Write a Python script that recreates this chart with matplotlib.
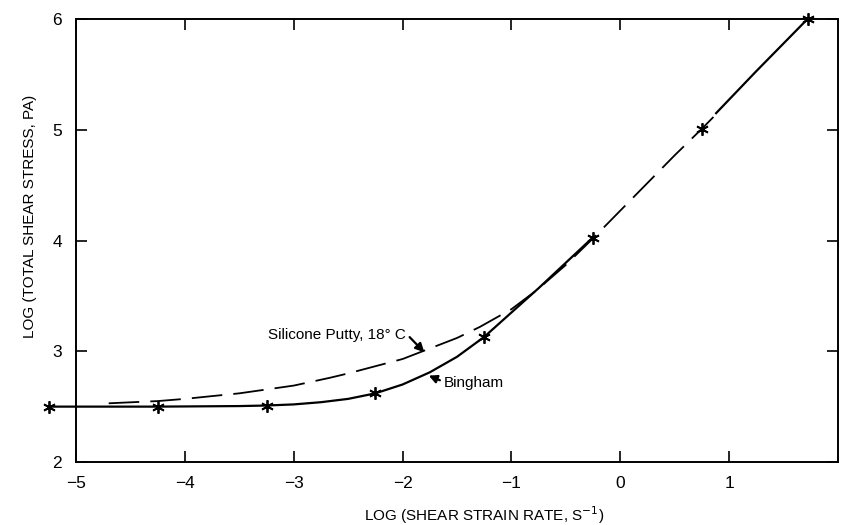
import matplotlib
matplotlib.use("Agg")
import matplotlib.pyplot as plt

plt.rcParams['font.family'] = ['Liberation Sans', 'DejaVu Sans']
plt.rcParams['lines.scale_dashes'] = False

# Bingham model curve (solid), two visible segments
bingham_x1 = [-5.25, -4.25, -3.5, -3.25, -3.0, -2.75, -2.5, -2.25, -2.0, -1.75, -1.5, -1.25, -1.0, -0.75, -0.5, -0.25]
bingham_y1 = [2.50, 2.50, 2.505, 2.51, 2.52, 2.54, 2.57, 2.62, 2.70, 2.81, 2.95, 3.13, 3.35, 3.57, 3.80, 4.03]
bingham_x2 = [0.88, 1.25, 1.5, 1.72]
bingham_y2 = [5.15, 5.53, 5.78, 6.00]

# Bingham computed points (asterisks)
point_x = [-5.25, -4.25, -3.25, -2.25, -1.25, -0.25, 0.75, 1.72]
point_y = [2.50, 2.50, 2.51, 2.62, 3.13, 4.02, 5.01, 6.00]

# Silicone putty, 18 C (dashed)
putty_x = [-4.7, -4.25, -4.0, -3.5, -3.0, -2.67, -2.5, -2.0, -1.5, -1.29, -1.0, -0.77, -0.5, -0.25, 0.0, 0.25, 0.5, 0.75, 0.9]
putty_y = [2.53, 2.55, 2.57, 2.62, 2.69, 2.76, 2.80, 2.93, 3.12, 3.22, 3.38, 3.55, 3.78, 4.02, 4.27, 4.52, 4.77, 5.01, 5.16]

x_ticks = [-5, -4, -3, -2, -1, 0, 1]
y_ticks = [2, 3, 4, 5, 6]

fig = plt.figure(figsize=(8.42, 5.25), dpi=100)
ax = fig.add_axes([0.0903, 0.12, 0.905, 0.8438])

ax.plot(putty_x, putty_y, color='black', lw=1.3, dashes=(22, 8))
ax.plot(bingham_x1, bingham_y1, color='black', lw=1.6, clip_on=False)
ax.plot(bingham_x2, bingham_y2, color='black', lw=1.6)
ax.plot(point_x, point_y, linestyle='none', marker=(6, 2, 0), markersize=9,
        markeredgewidth=1.3, color='black', clip_on=False)

ax.set_xlim(-5, 2.0)
ax.set_ylim(2, 6)
ax.set_xticks(x_ticks)
ax.set_yticks(y_ticks)
ax.set_xticklabels(['\u22125', '\u22124', '\u22123', '\u22122', '\u22121', '0', '1'])
ax.tick_params(direction='in', length=8, width=1.2, labelsize=12.5, pad=10,
               top=True, right=True)
for s in ax.spines.values():
    s.set_linewidth(1.4)

ax.set_xlabel('LOG (SHEAR STRAIN RATE, S$^{-1}$)', fontsize=11)
ax.set_ylabel('LOG (TOTAL SHEAR STRESS, PA)', fontsize=11)
ax.xaxis.set_label_coords(0.535, -0.095)
ax.yaxis.set_label_coords(-0.051, 0.555)

ax.annotate('Silicone Putty, 18\u00b0 C', xy=(-1.80, 2.99), xytext=(-1.97, 3.15),
            ha='right', va='center', fontsize=11,
            arrowprops=dict(arrowstyle='-|>', color='black', lw=1.6,
                            shrinkA=1, shrinkB=0, mutation_scale=13,
                            relpos=(1.0, 0.6)))
ax.annotate('Bingham', xy=(-1.76, 2.78), xytext=(-1.62, 2.71),
            ha='left', va='center', fontsize=11,
            arrowprops=dict(arrowstyle='-|>', color='black', lw=1.6,
                            shrinkA=1, shrinkB=0, mutation_scale=12,
                            relpos=(0.0, 0.6)))

fig.savefig('out.png', dpi=100)
